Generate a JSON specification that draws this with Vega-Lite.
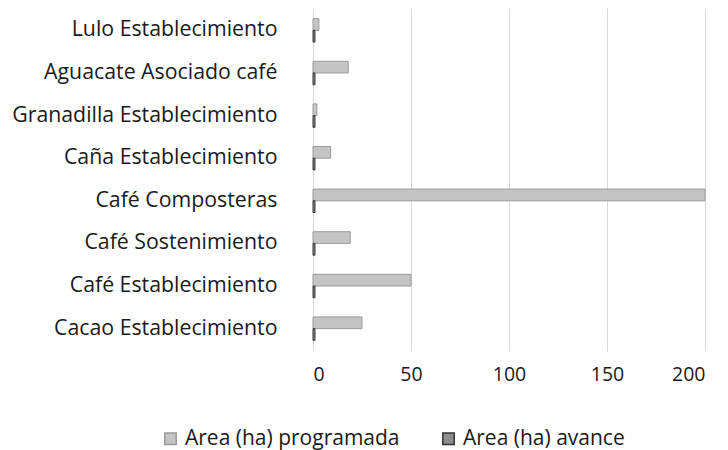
{
  "$schema": "https://vega.github.io/schema/vega-lite/v6.json",
  "autosize": "none",
  "width": 392,
  "height": 343,
  "padding": {"left": 313, "top": 8, "right": 23, "bottom": 99},
  "background": "white",
  "config": {
    "view": {"stroke": null},
    "font": "Open Sans"
  },
  "data": {
    "values": [
      {"cultivo": "Lulo Establecimiento", "serie": "Area (ha) programada", "area": 3},
      {"cultivo": "Lulo Establecimiento", "serie": "Area (ha) avance", "area": 1},
      {"cultivo": "Aguacate Asociado café", "serie": "Area (ha) programada", "area": 18},
      {"cultivo": "Aguacate Asociado café", "serie": "Area (ha) avance", "area": 1},
      {"cultivo": "Granadilla Establecimiento", "serie": "Area (ha) programada", "area": 2},
      {"cultivo": "Granadilla Establecimiento", "serie": "Area (ha) avance", "area": 1},
      {"cultivo": "Caña Establecimiento", "serie": "Area (ha) programada", "area": 9},
      {"cultivo": "Caña Establecimiento", "serie": "Area (ha) avance", "area": 1},
      {"cultivo": "Café Composteras", "serie": "Area (ha) programada", "area": 200},
      {"cultivo": "Café Composteras", "serie": "Area (ha) avance", "area": 1},
      {"cultivo": "Café Sostenimiento", "serie": "Area (ha) programada", "area": 19},
      {"cultivo": "Café Sostenimiento", "serie": "Area (ha) avance", "area": 1},
      {"cultivo": "Café Establecimiento", "serie": "Area (ha) programada", "area": 50},
      {"cultivo": "Café Establecimiento", "serie": "Area (ha) avance", "area": 1},
      {"cultivo": "Cacao Establecimiento", "serie": "Area (ha) programada", "area": 25},
      {"cultivo": "Cacao Establecimiento", "serie": "Area (ha) avance", "area": 1}
    ]
  },
  "mark": {"type": "bar", "strokeWidth": 1},
  "encoding": {
    "y": {
      "field": "cultivo",
      "type": "nominal",
      "sort": ["Lulo Establecimiento", "Aguacate Asociado café", "Granadilla Establecimiento", "Caña Establecimiento", "Café Composteras", "Café Sostenimiento", "Café Establecimiento", "Cacao Establecimiento"],
      "scale": {"paddingInner": 0.45, "paddingOuter": 0.25},
      "axis": {
        "title": null,
        "domain": false,
        "ticks": false,
        "labelPadding": 36,
        "labelFontSize": 21.3,
        "labelColor": "#1a1a1a",
        "labelLimit": 320
      }
    },
    "yOffset": {
      "field": "serie",
      "type": "nominal",
      "sort": ["Area (ha) programada", "Area (ha) avance"]
    },
    "x": {
      "field": "area",
      "type": "quantitative",
      "scale": {"domain": [0, 200], "nice": false},
      "axis": {
        "title": null,
        "values": [0, 50, 100, 150, 200],
        "domain": false,
        "ticks": false,
        "grid": true,
        "gridColor": "#d9d9d9",
        "labelPadding": 14,
        "labelFontSize": 19.5,
        "labelColor": "#1a1a1a"
      }
    },
    "color": {
      "field": "serie",
      "type": "nominal",
      "sort": ["Area (ha) programada", "Area (ha) avance"],
      "scale": {"domain": ["Area (ha) programada", "Area (ha) avance"], "range": ["#c4c4c4", "#8c8c8c"]},
      "legend": {
        "title": null,
        "orient": "none",
        "legendX": -153,
        "legendY": 420,
        "direction": "horizontal",
        "symbolType": "square",
        "symbolSize": 130,
        "labelFontSize": 21,
        "labelColor": "#1a1a1a",
        "labelLimit": 400,
        "columnPadding": 38
      }
    },
    "stroke": {
      "field": "serie",
      "type": "nominal",
      "scale": {"domain": ["Area (ha) programada", "Area (ha) avance"], "range": ["#9a9a9a", "#333333"]},
      "legend": null
    }
  }
}
